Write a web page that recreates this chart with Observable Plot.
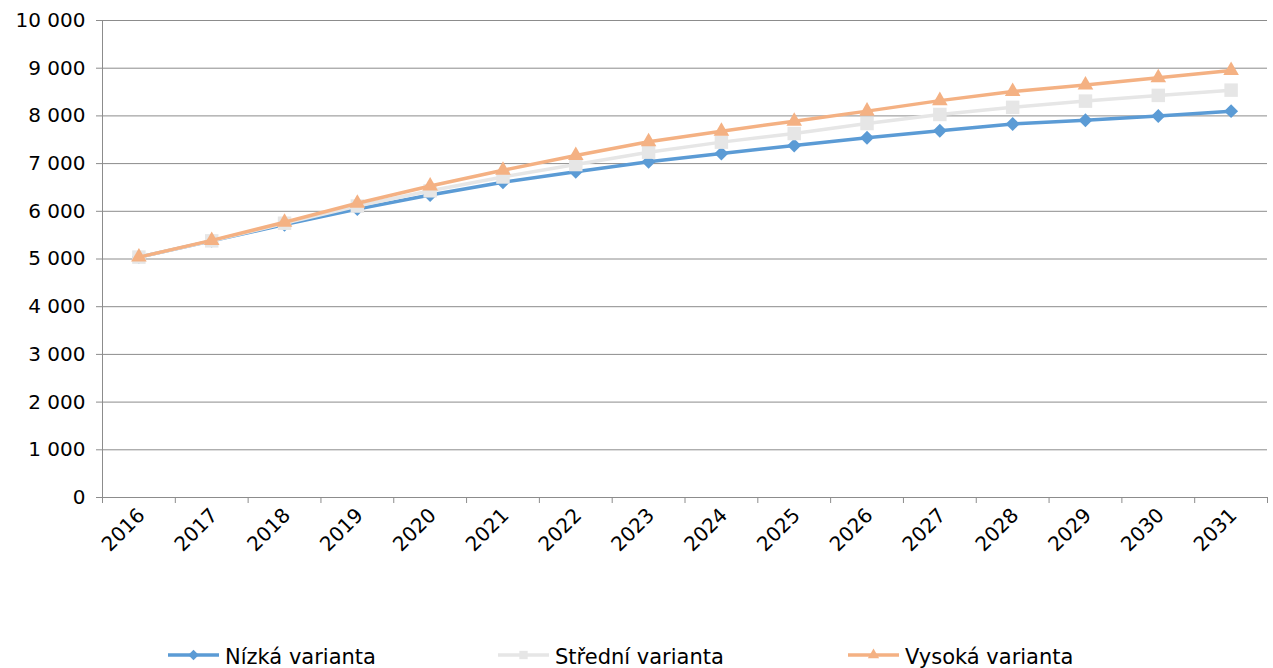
<!DOCTYPE html>
<html>
<head>
<meta charset="utf-8">
<script src="https://cdn.jsdelivr.net/npm/d3@7"></script>
<script src="https://cdn.jsdelivr.net/npm/@observablehq/plot@0.6"></script>
<style>
  html, body { margin: 0; padding: 0; background: #fff; }
  #wrap { position: relative; width: 1273px; height: 668px; overflow: hidden; font-family: "DejaVu Sans", Verdana, sans-serif; }
  #legend { position: absolute; left: 0; top: 644px; width: 1273px; height: 24px; }
  .item { position: absolute; top: 0; height: 22px; display: flex; align-items: center; font-size: 21px; color: #000; white-space: nowrap; }
  .item svg { margin-right: 6px; flex: none; }
  .item span { position: relative; top: 2px; }
</style>
</head>
<body>
<div id="wrap"><div id="chart"></div><div id="legend"></div></div>
<script>
const years = [2016,2017,2018,2019,2020,2021,2022,2023,2024,2025,2026,2027,2028,2029,2030,2031];
const nizka   = [5040,5380,5720,6050,6340,6610,6830,7040,7210,7380,7540,7690,7830,7910,8000,8100];
const stredni = [5040,5380,5750,6110,6430,6720,6980,7240,7450,7630,7840,8030,8180,8310,8430,8540];
const vysoka  = [5040,5390,5770,6170,6530,6860,7170,7460,7680,7890,8100,8320,8510,8650,8800,8950];
const seriesNames = ["Nízká varianta", "Střední varianta", "Vysoká varianta"];
const seriesColors = ["#5b9bd5", "#e6e6e6", "#f4b183"];
const seriesSymbols = ["diamond2", "square", "triangle"];
const seriesR = [6.3, 7.6, 5.8];
const yTicks = [0,1000,2000,3000,4000,5000,6000,7000,8000,9000,10000];

const seriesValues = [nizka, stredni, vysoka];
const rows = seriesValues.map((vals, i) => years.map((y, j) => ({year: y, value: vals[j], series: seriesNames[i]})));
const boundaries = years.map(y => y - 0.5).concat([years[years.length - 1] + 0.5]);
const fmt = d => d3.format(",")(d).replace(/,/g, " ");
const axisColor = "#8c8c8c";

const marks = [
  Plot.gridY(yTicks, {stroke: axisColor, strokeOpacity: 1, strokeWidth: 1}),
  Plot.axisY(yTicks, {tickSize: 6, tickPadding: 11, tickFormat: fmt, stroke: axisColor, fontSize: 20, fill: "#000", label: null}),
  Plot.ruleX([boundaries[0]], {stroke: axisColor, strokeWidth: 1}),
  Plot.axisX(boundaries, {tickSize: 6, tickFormat: () => "", stroke: axisColor, label: null}),
  Plot.text(years, {x: d => d, text: d => String(d), frameAnchor: "bottom", dx: 7, dy: 19, rotate: -45, textAnchor: "end", lineAnchor: "bottom", fontSize: 20, fill: "#000"})
];
rows.forEach((data, i) => {
  marks.push(Plot.line(data, {x: "year", y: "value", stroke: seriesColors[i], strokeWidth: 3.5}));
  marks.push(Plot.dot(data, {x: "year", y: "value", symbol: () => seriesSymbols[i], r: seriesR[i], fill: seriesColors[i], stroke: "none"}));
});

const chart = Plot.plot({
  width: 1273,
  height: 630,
  marginTop: 20,
  marginBottom: 133,
  marginLeft: 102,
  marginRight: 6,
  style: {fontFamily: "DejaVu Sans, Verdana, sans-serif", background: "#fff", overflow: "visible"},
  x: {type: "linear", domain: [boundaries[0], boundaries[boundaries.length - 1]]},
  y: {domain: [0, 10000]},
  symbol: {type: "identity"},
  marks
});
document.getElementById("chart").appendChild(chart);

// Legend
const legendLefts = [168, 498, 848];
const legendSymbols = [d3.symbolDiamond2, d3.symbolSquare, d3.symbolTriangle];
const legendSizes = [70, 70, 55];
const legend = document.getElementById("legend");
seriesNames.forEach((name, i) => {
  const item = document.createElement("div");
  item.className = "item";
  item.style.left = legendLefts[i] + "px";
  const sym = d3.symbol().type(legendSymbols[i]).size(legendSizes[i])();
  item.innerHTML = `<svg width="51" height="22"><line x1="0" x2="51" y1="11" y2="11" stroke="${seriesColors[i]}" stroke-width="3.5"/><path d="${sym}" transform="translate(25.5,11)" fill="${seriesColors[i]}"/></svg><span>${name}</span>`;
  legend.appendChild(item);
});
</script>
</body>
</html>
